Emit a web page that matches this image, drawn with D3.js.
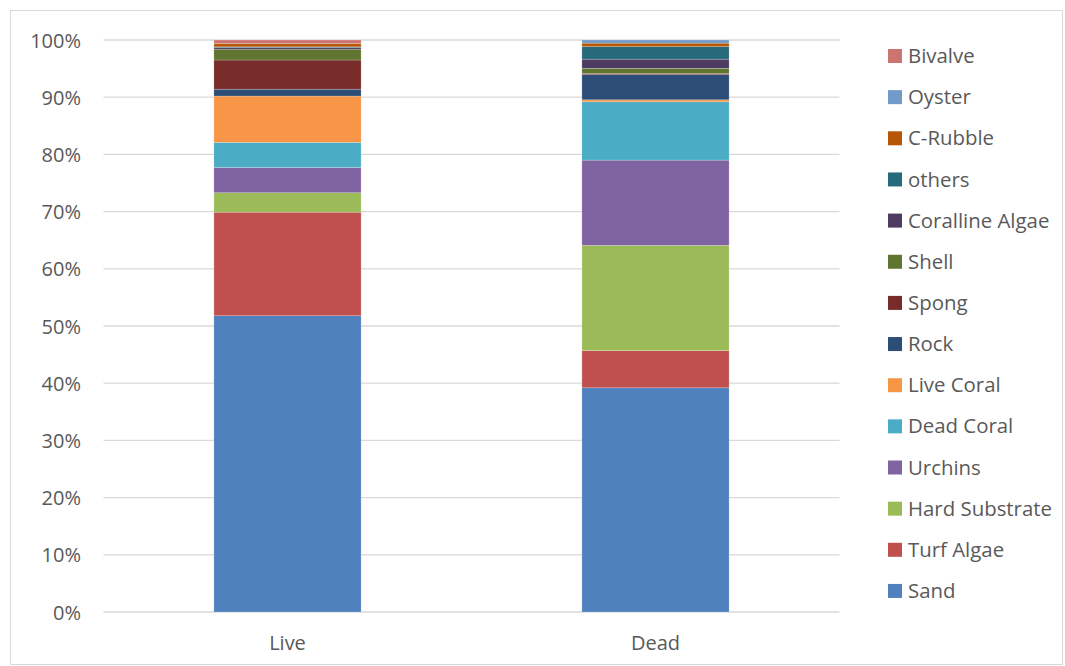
<!DOCTYPE html>
<html>
<head>
<meta charset="utf-8">
<script src="https://cdn.jsdelivr.net/npm/d3@7"></script>
<style>
  body { margin: 0; background: #fff; }
  svg { display: block; font-family: "Open Sans", Lato, sans-serif; }
</style>
</head>
<body>
<svg id="chart" width="1065" height="666"></svg>
<script>
// Substrate composition (%) by coral condition
const categories = ["Live", "Dead"];
const seriesNames = ["Sand", "Turf Algae", "Hard Substrate", "Urchins", "Dead Coral", "Live Coral",
  "Rock", "Spong", "Shell", "Coralline Algae", "others", "C-Rubble", "Oyster", "Bivalve"];
const liveValues = [51.8, 18.1, 3.4, 4.4, 4.4, 8.1, 1.2, 5.1, 1.9, 0.3, 0.1, 0.6, 0.0, 0.6];
const deadValues = [39.2, 6.5, 18.4, 14.9, 10.2, 0.35, 4.4, 0.2, 0.9, 1.6, 2.2, 0.6, 0.55, 0.0];
const seriesColors = ["#4f81bd", "#c0504d", "#9bbb59", "#8064a2", "#4bacc6", "#f79646",
  "#2c4d75", "#772c2a", "#5f7530", "#4d3b62", "#276a7c", "#b65708", "#729aca", "#cd7371"];
const yTicks = [0, 10, 20, 30, 40, 50, 60, 70, 80, 90, 100];

const FONT = "'Open Sans', Lato, sans-serif";
const svg = d3.select("#chart");

// chart frame
svg.append("rect")
  .attr("x", 10.5).attr("y", 10.5).attr("width", 1052).attr("height", 654)
  .attr("fill", "#fff").attr("stroke", "#d9d9d9").attr("stroke-width", 1);

const plot = { left: 103.5, right: 839.5, top: 40, bottom: 612 };

const x = d3.scaleBand().domain(categories).range([plot.left, plot.right]).padding(0);
const y = d3.scaleLinear().domain([0, 100]).range([plot.bottom, plot.top]);

// gridlines
svg.append("g").selectAll("line").data(yTicks).join("line")
  .attr("x1", plot.left).attr("x2", plot.right)
  .attr("y1", d => y(d)).attr("y2", d => y(d))
  .attr("stroke", "#d9d9d9").attr("stroke-width", 1.3);

// y axis labels
const yAxis = d3.axisLeft(y).tickValues(yTicks).tickFormat(d => d + "%").tickSize(0).tickPadding(0);
const yg = svg.append("g").attr("transform", `translate(81,0)`).call(yAxis);
yg.select(".domain").remove();
yg.selectAll("text").attr("font-size", 20).attr("fill", "#595959")
  .attr("font-family", FONT).attr("dy", "0.35em");

// stacked bars (normalized to 100%)
const rows = categories.map((c, i) => {
  const vals = i === 0 ? liveValues : deadValues;
  const total = d3.sum(vals);
  const row = { category: c };
  seriesNames.forEach((s, j) => row[s] = vals[j] / total * 100);
  return row;
});
const stack = d3.stack().keys(seriesNames)(rows);

const barWidth = x.bandwidth() * 0.4;
svg.append("g").selectAll("g").data(stack).join("g")
  .attr("fill", (d, i) => seriesColors[i])
  .selectAll("rect").data(d => d).join("rect")
  .attr("x", d => x(d.data.category) + (x.bandwidth() - barWidth) / 2)
  .attr("width", barWidth)
  .attr("y", d => y(d[1]))
  .attr("height", d => Math.max(0, y(d[0]) - y(d[1])))
  .attr("stroke", "rgba(255,255,255,0.35)")
  .attr("stroke-width", 0.6);

// x axis labels
const xAxis = d3.axisBottom(x).tickSize(0).tickPadding(0);
const xg = svg.append("g").attr("transform", `translate(0,643)`).call(xAxis);
xg.select(".domain").remove();
xg.selectAll("text").attr("font-size", 20).attr("fill", "#595959")
  .attr("font-family", FONT).attr("dy", "0.35em");

// legend (top entry is the last series)
const legendItems = seriesNames.map((s, i) => ({ name: s, color: seriesColors[i] })).reverse();
const legend = svg.append("g").attr("transform", "translate(888,56)");
const li = legend.selectAll("g").data(legendItems).join("g")
  .attr("transform", (d, i) => `translate(0,${i * 41.15})`);
li.append("rect").attr("x", 0).attr("y", -7).attr("width", 14).attr("height", 14)
  .attr("fill", d => d.color);
li.append("text").attr("x", 20).attr("y", 0).attr("dy", "0.35em")
  .attr("font-size", 20.4).attr("font-family", FONT).attr("fill", "#595959").text(d => d.name);
</script>
</body>
</html>
